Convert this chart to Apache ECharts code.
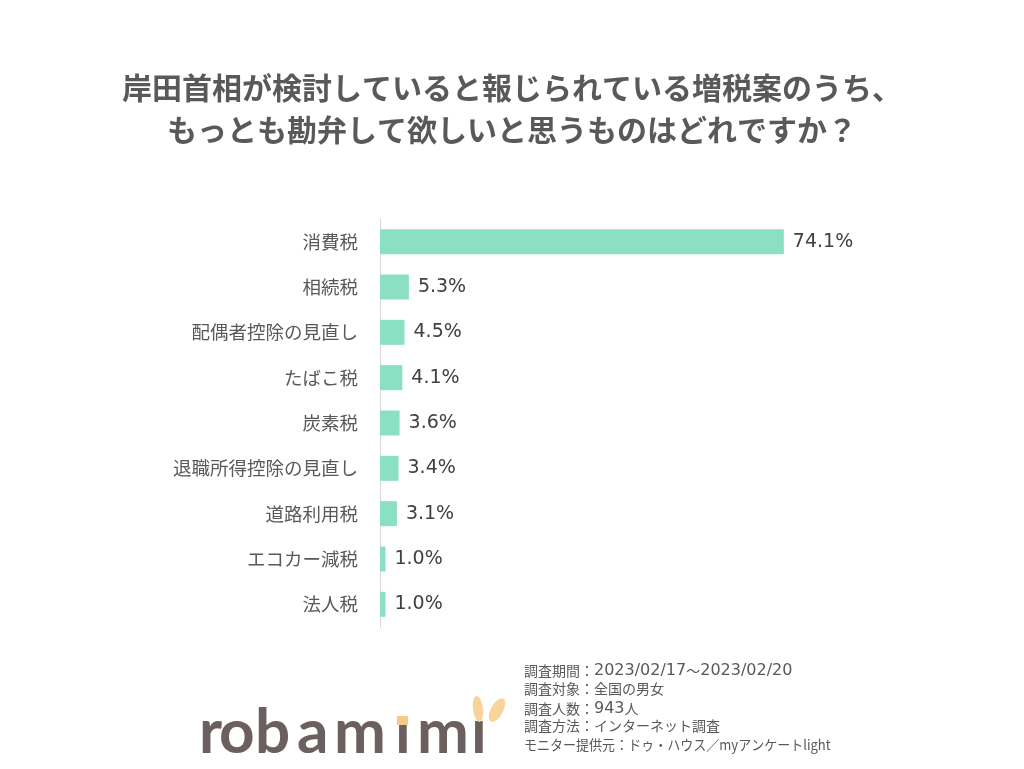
<!DOCTYPE html>
<html><head><meta charset="utf-8">
<script src="https://cdn.jsdelivr.net/npm/echarts@6/dist/echarts.min.js"></script>
<style>html,body{margin:0;padding:0;background:#fff}#c{width:1024px;height:769px}</style>
</head><body><div id="c"></div>
<script>
const categories = ['消費税','相続税','配偶者控除の見直し','たばこ税','炭素税','退職所得控除の見直し','道路利用税','エコカー減税','法人税'];
const values = [74.1, 5.3, 4.5, 4.1, 3.6, 3.4, 3.1, 1.0, 1.0];
const titleLines = ['岸田首相が検討していると報じられている増税案のうち、','もっとも勘弁して欲しいと思うものはどれですか？'];
const notes = ['調査期間：2023/02/17～2023/02/20','調査対象：全国の男女','調査人数：943人','調査方法：インターネット調査','モニター提供元：ドゥ・ハウス／myアンケートlight'];
const logoLetters = ['r','o','b','a','m','ı','m','ı'];

const chart = echarts.init(document.getElementById('c'));
const logoX = [199, 219, 255, 297, 334, 395, 417, 471];
const noteScaleX = [1, 1, 1, 1, 0.93];
const graphics = [];
logoLetters.forEach((ch, i) => {
  graphics.push({type:'text', left: logoX[i], top: 702, style:{text: ch, fontFamily:'Lato', fontWeight:'bold', fontSize: 62, fill:'#6b5f5f'}});
});
graphics.push({type:'rect', shape:{x:397, y:716, width:11, height:9}, style:{fill:'#f9c98a'}});
graphics.push({type:'ellipse', shape:{cx:478, cy:709, rx:5, ry:13}, rotation:0.12, originX:478, originY:709, style:{fill:'#f9d39a'}});
graphics.push({type:'ellipse', shape:{cx:497, cy:710, rx:6, ry:13}, rotation:-0.5, originX:497, originY:710, style:{fill:'#f9d39a'}});
notes.forEach((t, i) => {
  const rich = t.replace(/([0-9\/]+)/g, '{d|$1}');
  graphics.push({type:'text', x: 524, y: 663 + i*18.7, scaleX: noteScaleX[i], originX: 0, originY: 0,
    style:{text:rich, fontFamily:'Noto Sans CJK JP', fontSize:14, fill:'#595959',
      rich:{d:{fontFamily:'DejaVu Sans', fontSize:16, fill:'#595959'}}}});
});

chart.setOption({
  animation:false,
  title:{
    text: titleLines.join('\n'), left:'center', top:62,
    textStyle:{fontFamily:'Noto Sans CJK JP', fontWeight:'bold', fontSize:30, color:'#595959', lineHeight:42}
  },
  grid:{left:380, top:219, width:436, height:408, containLabel:false},
  xAxis:{type:'value', min:0, max:80, show:false},
  yAxis:{type:'category', data:categories, inverse:true,
    axisLine:{show:true, lineStyle:{color:'#d9d9d9', width:1}},
    axisTick:{show:false},
    axisLabel:{fontFamily:'Noto Sans CJK JP', fontSize:18.5, color:'#595959', margin:22}
  },
  series:[{type:'bar', data:values, barWidth:25, itemStyle:{color:'#8be0c4'},
    label:{show:true, position:'right', distance:9, formatter:p=>p.value.toFixed(1)+'%', fontFamily:'DejaVu Sans', fontSize:19, color:'#404040'}
  }],
  graphic: graphics
});
</script></body></html>
